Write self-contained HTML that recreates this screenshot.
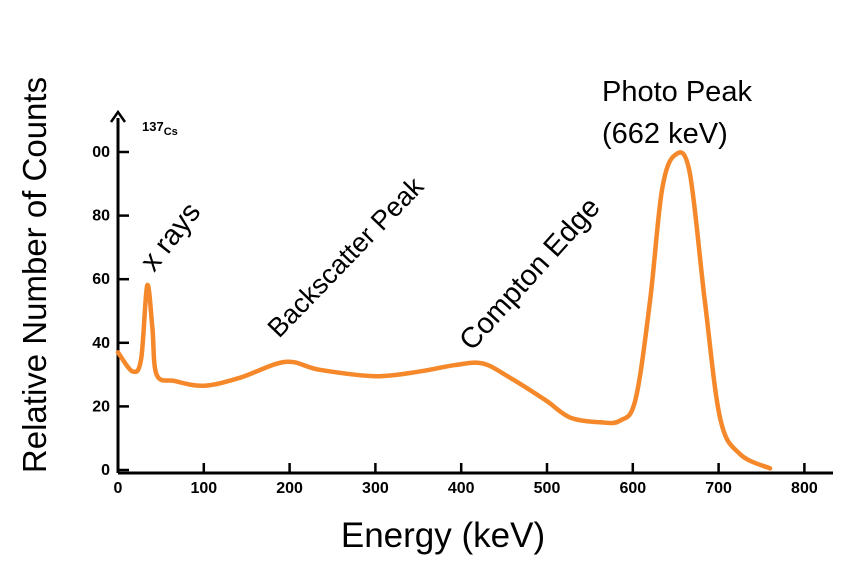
<!DOCTYPE html>
<html><head><meta charset="utf-8"><style>
html,body{margin:0;padding:0;background:#fff;width:852px;height:568px;overflow:hidden}
text{font-family:"Liberation Sans","DejaVu Sans",sans-serif}
</style></head><body>
<svg id="chart" width="852" height="568" viewBox="0 0 852 568" xmlns="http://www.w3.org/2000/svg">
<g id="axes"></g>
<g id="series"></g>
<text x="142" y="131" font-size="13" font-weight="bold">137<tspan font-size="11" dy="4">Cs</tspan></text>
<text font-size="29" transform="translate(154,273) rotate(-52)">x rays</text>
<text font-size="27" transform="translate(279,339) rotate(-46)">Backscatter Peak</text>
<text font-size="29" transform="translate(472,352) rotate(-48)">Compton Edge</text>
<text font-size="29" x="602" y="101">Photo Peak</text>
<text font-size="29" x="602" y="143">(662 keV)</text>
<text font-size="33" transform="translate(46,275) rotate(-90)" text-anchor="middle">Relative Number of Counts</text>
<text font-size="35" x="443" y="547" text-anchor="middle">Energy (keV)</text>
</svg>
<script>
const xTicks=[0,100,200,300,400,500,600,700,800];
const yTicks=[0,20,40,60,80,100];
const yTickLabels=["0","20","40","60","80","00"];
const energy=[0,17,27,34,40,45,66,100,142,195,235,300,352,393,425,457,498,527,562,585,603,620,634,649,666,684,702,725,760];
const counts=[37,31,35,58,45,30,28,26.5,29,34,31.5,29.5,31,33,33.5,29,22,16.5,15,15.5,22,53,88,99,94,53,16,5,0.5];
const NS="http://www.w3.org/2000/svg";
const X=v=>118+v*0.858;
const Y=v=>470-v*3.18;
const axes=document.getElementById('axes');
function mk(tag,attrs,parent){const e=document.createElementNS(NS,tag);for(const k in attrs)e.setAttribute(k,attrs[k]);parent.appendChild(e);return e;}
let e=mk('line',{x1:118,y1:473,x2:833,y2:473,stroke:'#000','stroke-width':3},axes);


e=mk('line',{x1:118,y1:473,x2:118,y2:118,stroke:'#000','stroke-width':3},axes);


e=mk('path',{d:'M111,122 L118,112 L125,122',fill:'none',stroke:'#000','stroke-width':2.5},axes);


xTicks.forEach(v=>{
 let t=mk('line',{x1:X(v),y1:473,x2:X(v),y2:463,stroke:'#000','stroke-width':2.5},axes);
 
 
 let l=mk('text',{x:X(v),y:493,'font-size':16,'text-anchor':'middle','font-weight':'bold'},axes);
 l.textContent=String(v);
 
 
});
yTicks.forEach((v,i)=>{
 let t=mk('line',{x1:118,y1:Y(v),x2:129,y2:Y(v),stroke:'#000','stroke-width':2.5},axes);
 
 
 let l=mk('text',{x:110,y:Y(v)+5,'font-size':16,'text-anchor':'end','font-weight':'bold'},axes);
 l.textContent=yTickLabels[i];
 
 
});
const pts=energy.map((v,i)=>[X(v),Y(counts[i])]);
let d='M'+pts[0][0]+','+pts[0][1];
for(let i=0;i<pts.length-1;i++){
 const p0=pts[i-1]||pts[i],p1=pts[i],p2=pts[i+1],p3=pts[i+2]||p2;
 const c1=[p1[0]+(p2[0]-p0[0])/6,p1[1]+(p2[1]-p0[1])/6];
 const c2=[p2[0]-(p3[0]-p1[0])/6,p2[1]-(p3[1]-p1[1])/6];
 d+=` C${c1[0]},${c1[1]} ${c2[0]},${c2[1]} ${p2[0]},${p2[1]}`;
}
const line=mk('path',{d:d,fill:'none',stroke:'#f5882a','stroke-width':4.5,'stroke-linejoin':'round','stroke-linecap':'round'},document.getElementById('series'));


</script>
</body></html>
